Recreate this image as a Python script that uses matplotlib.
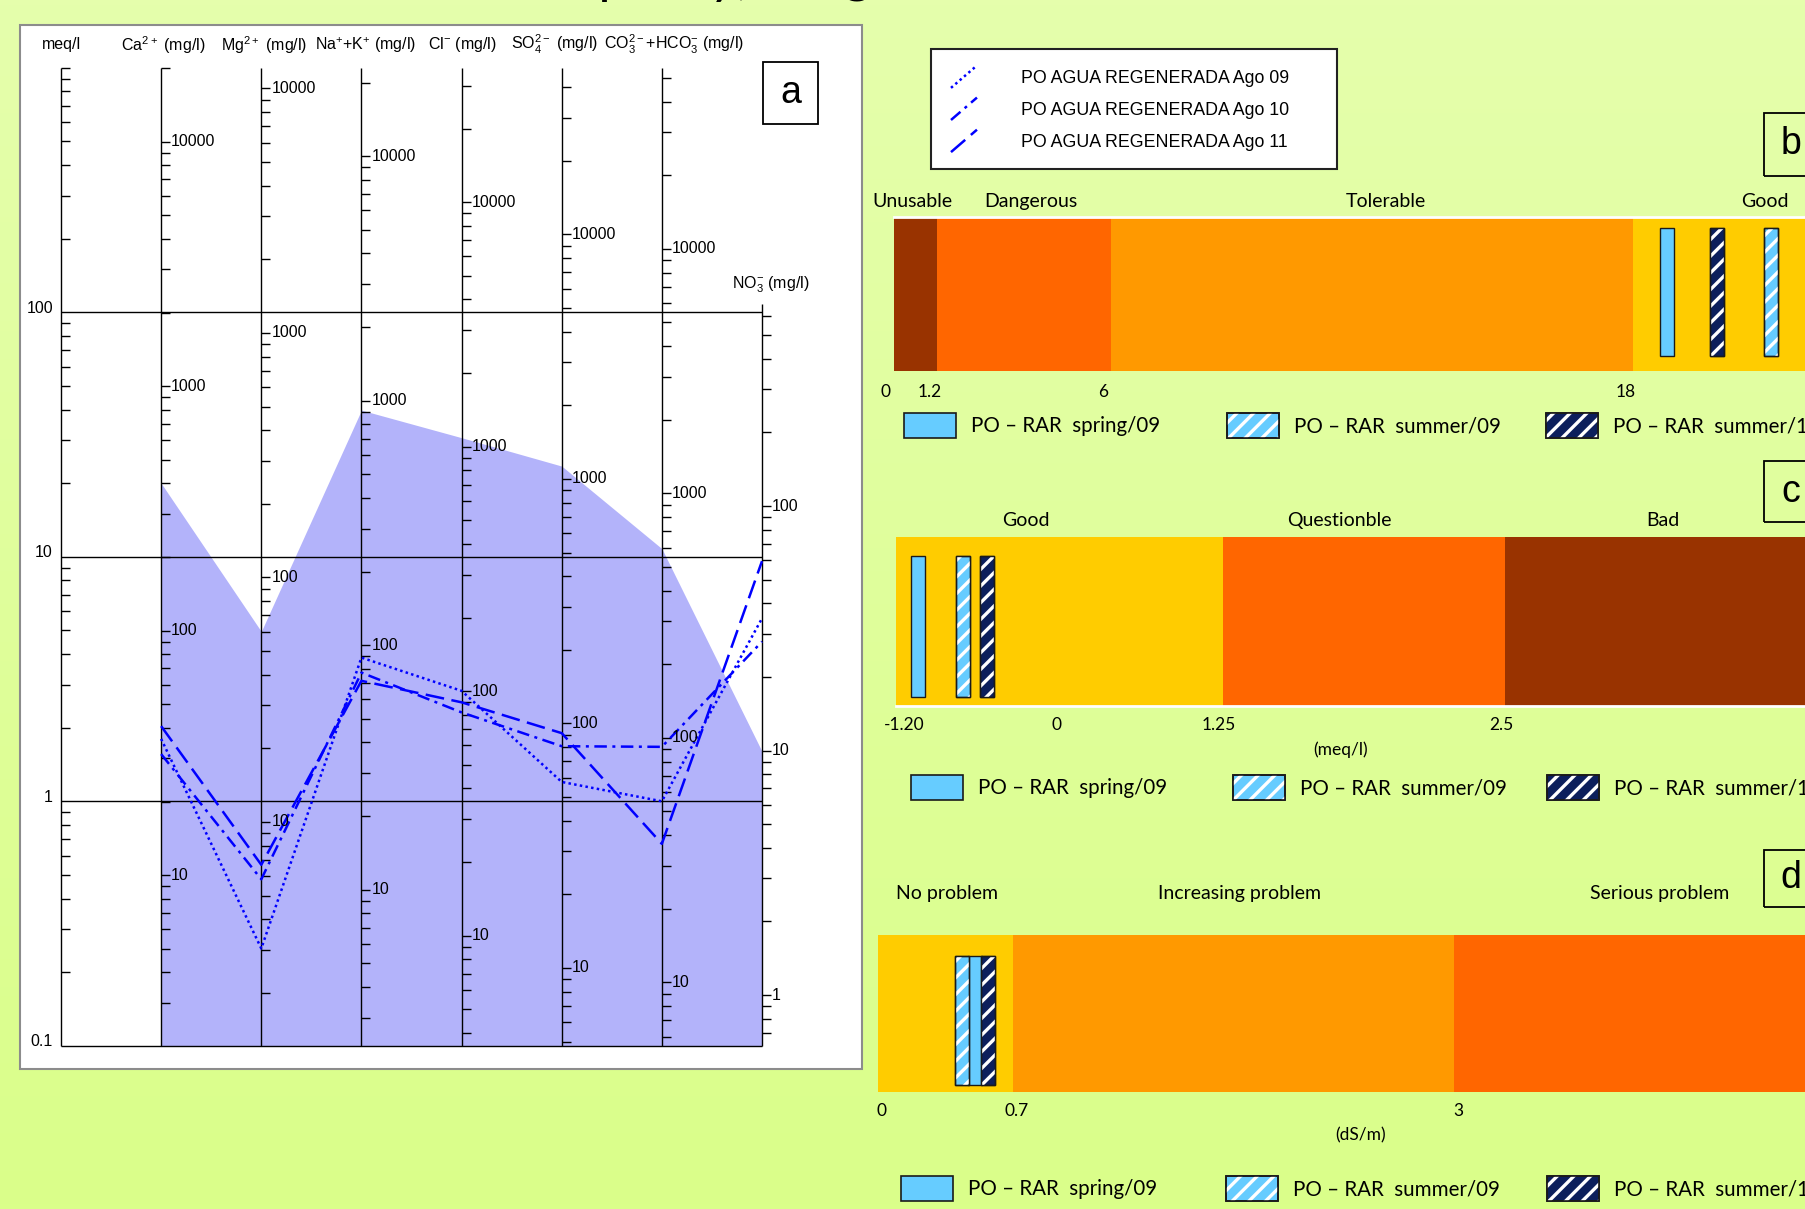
"""Schoeller diagram (a) with irrigation water quality class bars (b, c, d)."""

import matplotlib

matplotlib.use("Agg")
import matplotlib.pyplot as plt
import numpy as np
from matplotlib.legend_handler import HandlerBase
from matplotlib.lines import Line2D
from matplotlib.patches import Rectangle
from matplotlib.transforms import ScaledTranslation

W, H = 1806, 1209

# ---------------- data: panel a (values in meq/l on the shared log axis)
ion_headers = [r"Ca$^{2+}$ (mg/l)", r"Mg$^{2+}$ (mg/l)", r"Na$^{+}$+K$^{+}$ (mg/l)",
               r"Cl$^{-}$ (mg/l)", r"SO$_4^{2-}$ (mg/l)", r"CO$_3^{2-}$+HCO$_3^{-}$ (mg/l)"]
no3_header = r"NO$_3^{-}$ (mg/l)"
equiv_weight = [20.04, 12.15, 22.99, 35.45, 48.03, 55.0, 6.2]  # mg per meq for each ion axis
envelope_max = [20.0, 4.95, 39.8, 30.7, 23.5, 10.8, 1.6]
ago09 = [1.80, 0.25, 3.87, 2.83, 1.20, 1.00, 5.6]
ago10 = [1.56, 0.48, 3.36, 2.31, 1.68, 1.67, 4.5]
ago11 = [2.03, 0.55, 3.11, 2.54, 1.90, 0.67, 9.6]
series_labels = ["PO AGUA REGENERADA Ago 09", "PO AGUA REGENERADA Ago 10",
                 "PO AGUA REGENERADA Ago 11"]
meq_levels = [0.1, 1, 10, 100]
meq_level_labels = ["0.1", "1", "10", "100"]
no3_top = 108.0

# ---------------- data: panels b, c, d
seasons = ["PO – RAR  spring/09", "PO – RAR  summer/09", "PO – RAR  summer/10"]

b_classes = ["Unusable", "Dangerous", "Tolerable", "Good"]
b_breaks = [1.2, 6, 18]
b_ticks = [0, 1.2, 6, 18]
b_tick_labels = ["0", "1.2", "6", "18"]
b_values = [18.76, 21.17, 19.93]

c_classes = ["Good", "Questionble", "Bad"]
c_breaks = [1.25, 2.5]
c_ticks = [-1.2, 0, 1.25, 2.5]
c_tick_labels = ["-1.20", "0", "1.25", "2.5"]
c_values = [-1.12, -0.77, -0.58]

d_classes = ["No problem", "Increasing problem", "Serious problem"]
d_breaks = [0.7, 3]
d_ticks = [0, 0.7, 3]
d_tick_labels = ["0", "0.7", "3"]
d_values = [0.504, 0.437, 0.572]

# ---------------- styles
BROWN, RED, ORANGE, GOLD = "#993300", "#ff6600", "#ff9900", "#ffcc00"
LIGHT, NAVY = "#66ccff", "#0c1f5c"
season_style = [(LIGHT, None), (LIGHT, "//"), (NAVY, "//")]
line_styles = [(0, (1, 1.3)), (0, (5, 2.2, 1.2, 2.2)), (0, (7.5, 3))]
ARIAL = "Liberation Sans"
CALIBRI = "Lato"

plt.rcParams["mathtext.default"] = "regular"
plt.rcParams["hatch.linewidth"] = 2.4
plt.rcParams["font.family"] = ARIAL


def fx(x):
    return x / W


def fy(y):
    return 1 - y / H


def px_rect(left, top, right, bottom):
    return [left / W, 1 - bottom / H, (right - left) / W, (bottom - top) / H]


def fig_box(fig, left, top, right, bottom, **kw):
    rect = Rectangle((fx(left), fy(bottom)), (right - left) / W, (bottom - top) / H,
                     transform=fig.transFigure, **kw)
    fig.add_artist(rect)
    return rect


def extrap(x, xp, fp):
    x = np.asarray(x, dtype=float)
    y = np.interp(x, xp, fp)
    lo_slope = (fp[1] - fp[0]) / (xp[1] - xp[0])
    hi_slope = (fp[-1] - fp[-2]) / (xp[-1] - xp[-2])
    y = np.where(x < xp[0], fp[0] + (x - xp[0]) * lo_slope, y)
    y = np.where(x > xp[-1], fp[-1] + (x - xp[-1]) * hi_slope, y)
    return y


class SlantHandler(HandlerBase):
    def create_artists(self, legend, orig_handle, xdescent, ydescent, width, height,
                       fontsize, trans):
        seg = Line2D([-xdescent, width - xdescent],
                     [-ydescent - 0.4 * height, -ydescent + 1.4 * height])
        seg.update_from(orig_handle)
        seg.set_transform(trans)
        return [seg]


fig = plt.figure(figsize=(W / 100, H / 100), dpi=100)

# background gradient
bg = fig.add_axes([0, 0, 1, 1], zorder=-10)
top_c = np.array([229, 254, 172]) / 255
bot_c = np.array([218, 255, 138]) / 255
t = np.linspace(0, 1, 256)[:, None, None]
bg.imshow(top_c * (1 - t) + bot_c * t, aspect="auto", extent=[0, 1, 0, 1])
bg.set_axis_off()

# slide title, mostly above the visible area (only the lower part shows)
fig.text(fx(752), fy(-7), "quality)", ha="right", va="baseline", fontsize=38, family=CALIBRI)
fig.text(fx(787), fy(-7), "(Figure 12)", ha="left", va="baseline", fontsize=38, family=CALIBRI)

# ================= panel a
fig_box(fig, 20, 25, 862, 1069, facecolor="white", edgecolor="#8c8c8c", lw=1.5, zorder=-5)
ax = fig.add_axes(px_rect(61, 67.8, 762, 1045.8))
ax.set_facecolor("none")
ax.set_yscale("log")
ax.set_ylim(0.1, 1000)
ax.set_xlim(0, 7)
ax.set_axis_off()

xs = np.arange(1, 8)
ax.fill_between(xs, 0.1, envelope_max, color="#b3b3fa", lw=0, zorder=1)

frame_kw = dict(color="black", lw=1.0, zorder=2, clip_on=False)
ax.vlines(np.arange(0, 7), 0.1, 1000, **frame_kw)
ax.vlines(7, 0.1, no3_top, **frame_kw)
ax.hlines(meq_levels, 0, 7, **frame_kw)

TICK = 0.09
meq_minor = [m * 10.0 ** k for k in range(-1, 3) for m in range(2, 10)] + [1000]
ax.hlines(meq_minor, 0, TICK, **frame_kw)
up4 = ax.transData + ScaledTranslation(0, 4 / 100, fig.dpi_scale_trans)
for lvl, lab in zip(meq_levels, meq_level_labels):
    ax.text(-0.08, lvl, lab, ha="right", va="center", fontsize=11.5, transform=up4)

for i, w in enumerate(equiv_weight):
    top = 1000 if i < 6 else no3_top
    for k in range(-1, 6):
        for m in range(1, 10):
            mg = m * 10.0 ** k
            meq = mg / w
            if 0.1 <= meq <= top * 1.02:
                ax.hlines(meq, i + 1, i + 1 + TICK, **frame_kw)
                if m == 1:
                    ax.text(i + 1 + TICK + 0.01, meq, f"{mg:g}", ha="left", va="center",
                            fontsize=11.5, zorder=4)

hdr_tr = ax.get_xaxis_transform()
ax.text(0, 1.0235, "meq/l", transform=hdr_tr, ha="center", va="center", fontsize=11.5)
hdr_dx = [0.02, 0.03, 0.04, 0.01, -0.07, 0.12]
for i, (hdr, dx) in enumerate(zip(ion_headers, hdr_dx)):
    ax.text(i + 1 + dx, 1.0235, hdr, transform=hdr_tr, ha="center", va="center", fontsize=11.5)
ax.text(7.09, 0.778, no3_header, transform=hdr_tr, ha="center", va="center", fontsize=11.5)

lines = []
for vals, ls in zip([ago09, ago10, ago11], line_styles):
    (ln,) = ax.plot(xs, vals, color="#0000ff", lw=1.8, linestyle=ls, zorder=3, clip_on=False)
    lines.append(ln)

fig_box(fig, 763, 62, 818.5, 124, facecolor="white", edgecolor="black", lw=1.3, zorder=1)
fig.text(fx(790.7), fy(93), "a", ha="center", va="center", fontsize=27)

fig_box(fig, 931, 49.3, 1336.6, 169.3, facecolor="white", edgecolor="#222222", lw=1.5, zorder=1)
fig.legend(lines, series_labels, handler_map={Line2D: SlantHandler()},
           loc="center left", bbox_to_anchor=(fx(951), fy(110.5)), frameon=False,
           prop={"family": ARIAL, "size": 12.8}, handlelength=1.46, handleheight=0.7,
           handletextpad=2.5, labelspacing=0.85, borderpad=0, borderaxespad=0)

# ================= panels b, c, d
panels = [
    dict(classes=b_classes, breaks=b_breaks, ticks=b_ticks, tick_labels=b_tick_labels,
         values=b_values, colors=[BROWN, RED, ORANGE, GOLD], letter="b",
         box=(894, 216.5, 1860, 371), anchors=[894, 937.5, 1111.5, 1633.5],
         label_y=391.7, label_dx=-8, class_x=[912.5, 1030.7, 1386, 1765], class_y=201.7,
         marker_y=(228, 356), white_edge=1, unit=None,
         row_y=425.5, row_x=[904, 1227, 1546], letter_y=(113, 176)),
    dict(classes=c_classes, breaks=c_breaks, ticks=c_ticks, tick_labels=c_tick_labels,
         values=c_values, colors=[GOLD, RED, BROWN], letter="c",
         box=(896, 536.7, 1860, 705.7), anchors=[908, 1061, 1223.2, 1505.5],
         label_y=725, label_dx=-4, class_x=[1026, 1339.6, 1662.4], class_y=520,
         marker_y=(555.7, 696.7), white_edge=0, unit=("(meq/l)", 1341, 749.3),
         row_y=787.5, row_x=[911, 1233, 1547], letter_y=(461, 522)),
    dict(classes=d_classes, breaks=d_breaks, ticks=d_ticks, tick_labels=d_tick_labels,
         values=d_values, colors=[GOLD, ORANGE, RED], letter="d",
         box=(878, 935, 1860, 1091.7), anchors=[878, 1012.6, 1454.3],
         label_y=1110.7, label_dx=4, class_x=[947.5, 1240, 1659.4], class_y=894,
         marker_y=(955.7, 1085), white_edge=None, unit=("(dS/m)", 1361, 1135),
         row_y=1188, row_x=[901, 1226, 1547], letter_y=(850, 907)),
]

MARKER_PX = 14
for p in panels:
    left, top, right, bottom = p["box"]
    bax = fig.add_axes(px_rect(left, top, right, bottom))
    anchors_v, anchors_p = p["ticks"], p["anchors"]

    def fwd(v, av=anchors_v, ap=anchors_p):
        return extrap(v, av, ap)

    def inv(q, av=anchors_v, ap=anchors_p):
        return extrap(q, ap, av)

    bax.set_xscale("function", functions=(fwd, inv))
    x0, x1 = float(inv(left)), float(inv(right))
    bax.set_xlim(x0, x1)
    bax.set_ylim(0, 1)
    bax.set_axis_off()

    edges = [x0] + list(p["breaks"]) + [x1]
    for lo, hi, col in zip(edges[:-1], edges[1:], p["colors"]):
        bax.axvspan(lo, hi, color=col, lw=0, zorder=1)
    if p["white_edge"] is not None:
        bax.axhline(p["white_edge"], color="white", lw=2, zorder=2, clip_on=False)

    height = bottom - top
    y0 = (bottom - p["marker_y"][1]) / height
    y1 = (bottom - p["marker_y"][0]) / height
    for v, (col, hatch) in zip(p["values"], season_style):
        c = float(fwd(v))
        lo, hi = float(inv(c - MARKER_PX / 2)), float(inv(c + MARKER_PX / 2))
        bax.bar(lo, y1 - y0, width=hi - lo, bottom=y0, align="edge", color=col,
                edgecolor="#1a1a1a", lw=1.0, zorder=3)
        if hatch:
            bax.bar(lo, y1 - y0, width=hi - lo, bottom=y0, align="edge", fill=False,
                    edgecolor="white", hatch=hatch, lw=0, zorder=4)
            bax.bar(lo, y1 - y0, width=hi - lo, bottom=y0, align="edge", fill=False,
                    edgecolor="#1a1a1a", lw=1.0, zorder=5)

    shift = bax.get_xaxis_transform() + ScaledTranslation(p["label_dx"] / 100, 0,
                                                          fig.dpi_scale_trans)
    ly = -(p["label_y"] - bottom) / height
    for v, lab in zip(p["ticks"], p["tick_labels"]):
        bax.text(v, ly, lab, transform=shift, ha="center", va="center",
                 fontsize=12.5, family=CALIBRI)

    for name, cx in zip(p["classes"], p["class_x"]):
        fig.text(fx(cx), fy(p["class_y"]), name, ha="center", va="center",
                 fontsize=14, family=CALIBRI)
    if p["unit"]:
        unit, ux, uy = p["unit"]
        fig.text(fx(ux), fy(uy), unit, ha="center", va="center", fontsize=12.5, family=CALIBRI)

    # season key row under the bar
    for rx, name, (col, hatch) in zip(p["row_x"], seasons, season_style):
        fig_box(fig, rx, p["row_y"] - 12.5, rx + 52, p["row_y"] + 12.5,
                facecolor=col, edgecolor="#1a1a1a", lw=1.2, zorder=2)
        if hatch:
            fig_box(fig, rx, p["row_y"] - 12.5, rx + 52, p["row_y"] + 12.5,
                    fill=False, edgecolor="white", hatch=hatch, lw=0, zorder=3)
            fig_box(fig, rx, p["row_y"] - 12.5, rx + 52, p["row_y"] + 12.5,
                    fill=False, edgecolor="#1a1a1a", lw=1.2, zorder=4)
        fig.text(fx(rx + 67), fy(p["row_y"] + 1), name, ha="left", va="center",
                 fontsize=14.8, family=CALIBRI)

    ly0, ly1 = p["letter_y"]
    fig_box(fig, 1764, ly0, 1840, ly1, fill=False, edgecolor="black", lw=1.3, zorder=2)
    fig.text(fx(1791), fy((ly0 + ly1) / 2), p["letter"], ha="center", va="center", fontsize=27)

fig.savefig("out.png", dpi=100)
plt.close(fig)
